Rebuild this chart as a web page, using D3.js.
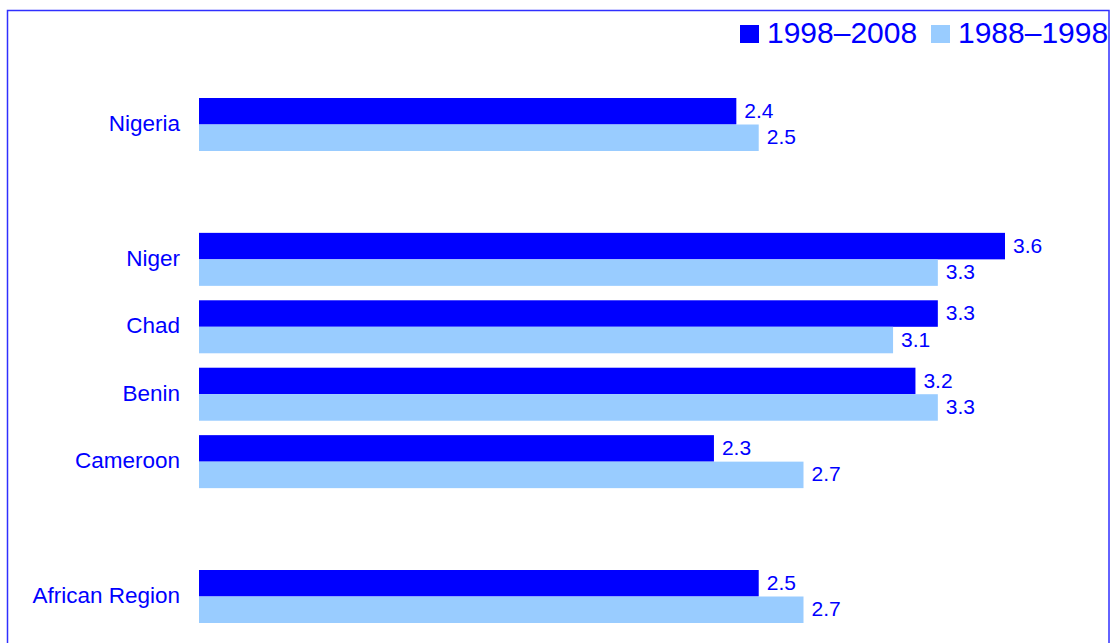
<!DOCTYPE html>
<html>
<head>
<meta charset="utf-8">
<script src="https://cdn.jsdelivr.net/npm/d3@7"></script>
<style>
  html, body { margin: 0; padding: 0; background: #fff; }
  svg { display: block; font-family: "Liberation Sans", Arial, sans-serif; }
</style>
</head>
<body>
<svg id="chart" width="1112" height="643"></svg>
<script>
// Average annual growth rate (%), by country and period
const categories = ["Nigeria", "Niger", "Chad", "Benin", "Cameroon", "African Region"];
const series = ["1998\u20132008", "1988\u20131998"];
const recent = [2.4, 3.6, 3.3, 3.2, 2.3, 2.5];   // 1998–2008
const earlier = [2.5, 3.3, 3.1, 3.3, 2.7, 2.7];  // 1988–1998
const colors = ["#0000ff", "#99ccff"];

const textColor = "#0000ff";
const svg = d3.select("#chart");

// Frame
svg.append("rect")
  .attr("x", 7.5).attr("y", 10.5)
  .attr("width", 1101.5).attr("height", 660)
  .attr("fill", "none")
  .attr("stroke", "#3030ff")
  .attr("stroke-width", 1.5);

// Row slots: blank spacer rows separate Nigeria and the regional average
const slotKeys = ["Nigeria", "gap-a", "Niger", "Chad", "Benin", "Cameroon", "gap-b", "African Region"];
const y = d3.scaleBand()
  .domain(slotKeys)
  .range([98, 623])
  .paddingInner(0.214)
  .paddingOuter(0);

const x = d3.scaleLinear().domain([0, 3.6]).range([199, 1005]);

const rows = categories.map((c, i) => ({ name: c, values: [recent[i], earlier[i]] }));
const half = y.bandwidth() / 2;

const g = svg.append("g");

const row = g.selectAll("g.row")
  .data(rows)
  .join("g")
  .attr("class", "row")
  .attr("transform", d => `translate(0,${y(d.name)})`);

row.selectAll("rect")
  .data(d => d.values.map((v, k) => ({ v, k })))
  .join("rect")
  .attr("x", x(0))
  .attr("y", d => d.k * half)
  .attr("width", d => x(d.v) - x(0))
  .attr("height", half)
  .attr("fill", d => colors[d.k]);

row.selectAll("text.val")
  .data(d => d.values.map((v, k) => ({ v, k })))
  .join("text")
  .attr("class", "val")
  .attr("x", d => x(d.v) + 8)
  .attr("y", d => d.k * half + half / 2 - 1)
  .attr("dy", "0.36em")
  .attr("font-size", 21)
  .attr("fill", textColor)
  .text(d => d3.format(".1f")(d.v));

// Category labels
row.append("text")
  .attr("x", 180)
  .attr("y", half - 1.5)
  .attr("dy", "0.36em")
  .attr("text-anchor", "end")
  .attr("font-size", 22.5)
  .attr("fill", textColor)
  .text(d => d.name);

// Legend
const legend = svg.append("g");
const legendPos = [{ sx: 740, tx: 767 }, { sx: 931, tx: 958 }];
series.forEach((s, k) => {
  legend.append("rect")
    .attr("x", legendPos[k].sx).attr("y", 25)
    .attr("width", 19).attr("height", 18)
    .attr("fill", colors[k]);
  legend.append("text")
    .attr("x", legendPos[k].tx).attr("y", 32)
    .attr("dy", "0.36em")
    .attr("font-size", 30)
    .attr("fill", textColor)
    .text(s);
});
</script>
</body>
</html>
